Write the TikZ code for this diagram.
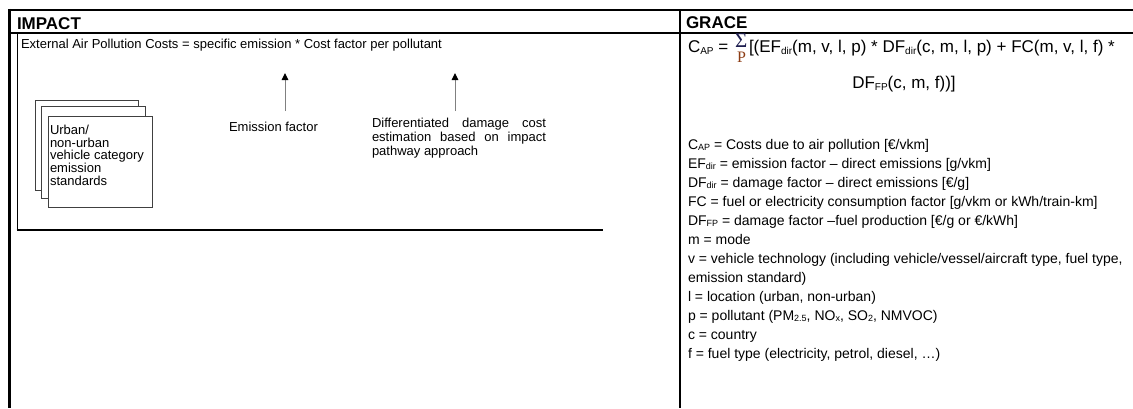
\documentclass[tikz,border=0pt]{standalone}
\usepackage{fontspec}
\setmainfont{Liberation Sans}
\newfontfamily\serifx{Liberation Serif}
\usetikzlibrary{arrows.meta}
\newcommand\mysub[1]{\raisebox{-2pt}{\fontsize{10}{10}\selectfont #1}}
\newcommand\mysubs[1]{\raisebox{-1.5pt}{\fontsize{9}{9}\selectfont #1}}
\newcommand\tightlines{\lineskiplimit=-20pt\relax}
\newcommand\jline[1]{\makebox[174pt][s]{#1}}
\definecolor{sigcol}{RGB}{30,30,80}
\definecolor{pcol}{RGB}{140,60,20}
\begin{document}
\begin{tikzpicture}[x=1pt,y=-1pt,
  every node/.style={inner sep=0pt,outer sep=0pt,text=black},
  hdr/.style={font=\bfseries\fontsize{17}{20}\selectfont,anchor=base west},
  lefttxt/.style={font=\fontsize{13}{15}\selectfont},
  deftxt/.style={font=\fontsize{14}{16}\selectfont,anchor=base west},
  formtxt/.style={font=\fontsize{17}{20}\selectfont,anchor=base west},
  stackbox/.style={draw=black!75,line width=0.8pt,fill=white},
  arr/.style={draw=black!50,line width=1pt,-{Triangle[width=6.5pt,length=7pt,color=black,fill=black]}},
]
\useasboundingbox (0,0) rectangle (1133,408);
% table rules
\draw[line width=2.5pt] (8,10) -- (1133,10);
\draw[line width=3pt] (9.5,8.75) -- (9.5,408);
\draw[line width=2.7pt] (9,33) -- (603,33);
\draw[line width=1.2pt] (603,33) -- (680,33);
\draw[line width=2.5pt] (680,33) -- (1133,33);
\draw[line width=1.2pt] (680,10) -- (680,408);
% inner picture frame
\draw[line width=1pt] (17,33) -- (17,230);
\draw[line width=2.7pt] (16.5,230) -- (603,230);
% headers
\node[hdr] (impact) at (17,29) {IMPACT};
\node[hdr] (grace) at (686,28) {GRACE};
% left content
\node[lefttxt,anchor=base west] (eapc) at (21,48) {External Air Pollution Costs = specific emission * Cost factor per pollutant};
\node[stackbox,anchor=north west,minimum width=103pt,minimum height=90pt] (back) at (35,100) {};
\node[stackbox,anchor=north west,minimum width=104pt,minimum height=92pt] (mid) at (41,106) {};
\node[stackbox,anchor=north west,minimum width=104pt,minimum height=91pt] (front) at (48,116) {};
\node[anchor=north west,align=left,font=\fontsize{13}{12.7}\selectfont\tightlines] (ftxt) at (50,125) {Urban/\\non-urban\\vehicle category\\emission\\standards};
\node[lefttxt,anchor=base west] (ef) at (229,131) {Emission factor};
\node[anchor=north west,align=left,font=\fontsize{13}{13.6}\selectfont\tightlines] (ddc) at (372,118.5) {\jline{Differentiated damage cost}\\\jline{estimation based on impact}\\pathway approach};
\coordinate (a1t) at (285,73);
\coordinate (a1b) at (285,111);
\coordinate (a2t) at (455,73);
\coordinate (a2b) at (455,111);
\draw[arr] (a1b) -- (a1t);
\draw[arr] (a2b) -- (a2t);
% right content: formula
\node[formtxt] (cap) at (688,52) {C\mysub{AP} =};
\node[font=\serifx\fontsize{21}{21}\selectfont,text=sigcol,anchor=base west] (sig) at (735,47) {Σ};
\node[font=\serifx\fontsize{16}{16}\selectfont,text=pcol,anchor=base west] (pp) at (737,62) {P};
\node[formtxt] (f1) at (749,52) {[(EF\mysub{dir}(m, v, l, p) * DF\mysub{dir}(c, m, l, p) + FC(m, v, l, f) *};
\node[formtxt,anchor=base] (f2) at (904,88) {DF\mysub{FP}(c, m, f))]};
% definitions
\node[deftxt] (d1) at (688,149) {C\mysubs{AP} = Costs due to air pollution [€/vkm]};
\node[deftxt] (d2) at (688,168) {EF\mysubs{dir} = emission factor – direct emissions [g/vkm]};
\node[deftxt] (d3) at (688,187) {DF\mysubs{dir} = damage factor – direct emissions [€/g]};
\node[deftxt] (d4) at (688,206) {FC = fuel or electricity consumption factor [g/vkm or kWh/train-km]};
\node[deftxt] (d5) at (688,225) {DF\mysubs{FP} = damage factor –fuel production [€/g or €/kWh]};
\node[deftxt] (d6) at (688,244) {m = mode};
\node[deftxt] (d7) at (688,263) {v = vehicle technology (including vehicle/vessel/aircraft type, fuel type,};
\node[deftxt] (d8) at (688,282) {emission standard)};
\node[deftxt] (d9) at (688,301) {l = location (urban, non-urban)};
\node[deftxt] (d10) at (688,320) {p = pollutant (PM\mysubs{2.5}, NO\mysubs{x}, SO\mysubs{2}, NMVOC)};
\node[deftxt] (d11) at (688,339) {c = country};
\node[deftxt] (d12) at (688,358) {f = fuel type (electricity, petrol, diesel, …)};
\end{tikzpicture}
\end{document}
